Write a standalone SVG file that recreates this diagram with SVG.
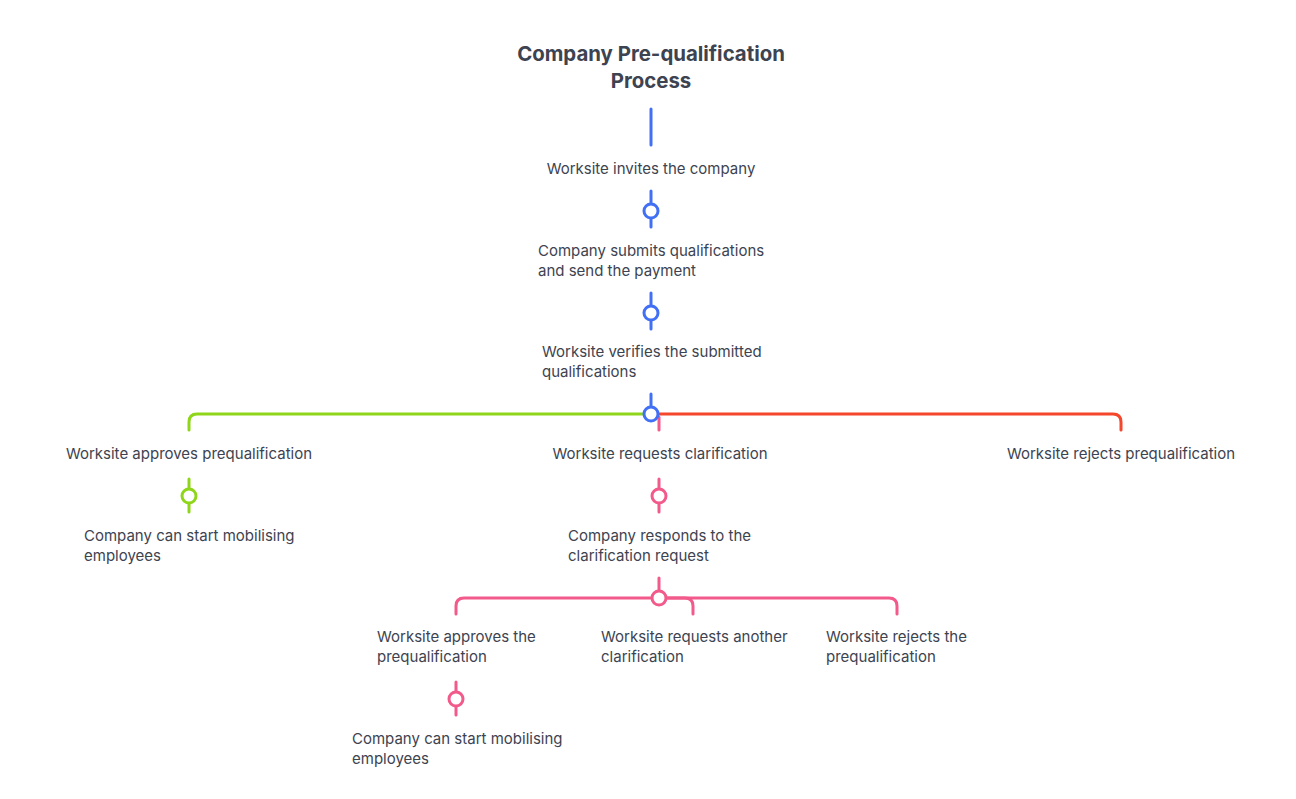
<svg xmlns="http://www.w3.org/2000/svg" width="1296" height="799" viewBox="0 0 1296 799">
<style>
.t{font-family:Inter,"Noto Sans",sans-serif;font-size:15px;fill:#3d4350}
.c{text-anchor:middle}
.title{font-family:Inter,"Noto Sans",sans-serif;font-size:20.4px;font-weight:700;fill:#3d4350;text-anchor:middle}
.ln{fill:none;stroke-width:3;stroke-linecap:round;stroke-linejoin:round}
.b{stroke:#4270f5}
.g{stroke:#8fd61b}
.r{stroke:#f4472b}
.p{stroke:#f25a8b}
.dot{fill:#fff;stroke-width:3}
</style>
<rect width="1296" height="799" fill="#fff"/>
<g id="connectors">
<line class="ln b" x1="651" y1="109" x2="651" y2="145"/>
<line class="ln b" x1="651" y1="191" x2="651" y2="227"/>
<line class="ln b" x1="651" y1="293" x2="651" y2="329"/>
<line class="ln b" x1="651" y1="394" x2="651" y2="414"/>
<path class="ln g" d="M651 414 H197 Q189 414 189 422 V430"/>
<path class="ln r" d="M651 414 H1113 Q1121 414 1121 422 V430"/>
<line class="ln p" x1="659" y1="417" x2="659" y2="430"/>
<line class="ln g" x1="189" y1="479" x2="189" y2="512"/>
<line class="ln p" x1="659" y1="479" x2="659" y2="512"/>
<line class="ln p" x1="659" y1="578" x2="659" y2="598"/>
<path class="ln p" d="M659 598 H464 Q456 598 456 606 V614"/>
<path class="ln p" d="M659 598 H889 Q897 598 897 606 V614"/>
<path class="ln p" d="M659 598 H685 Q693 598 693 606 V614"/>
<line class="ln p" x1="456" y1="682" x2="456" y2="715"/>
</g>
<g id="title"><text class="title" x="651" y="61">Company Pre-qualification</text><text class="title" x="651" y="88">Process</text></g>
<g id="n1"><text class="t c" x="651" y="174">Worksite invites the company</text></g>
<g id="n2"><circle class="dot b" cx="651" cy="211" r="7"/><text class="t" x="538" y="256">Company submits qualifications</text><text class="t" x="538" y="276">and send the payment</text></g>
<g id="n3"><circle class="dot b" cx="651" cy="313" r="7"/><text class="t" x="542" y="357">Worksite verifies the submitted</text><text class="t" x="542" y="377">qualifications</text></g>
<g id="split1"><circle class="dot b" cx="651" cy="414" r="7"/></g>
<g id="n4"><text class="t c" x="189" y="459">Worksite approves prequalification</text></g>
<g id="n5"><text class="t c" x="660" y="459">Worksite requests clarification</text></g>
<g id="n6"><text class="t c" x="1121" y="459">Worksite rejects prequalification</text></g>
<g id="n7"><circle class="dot g" cx="189" cy="496" r="7"/><text class="t" x="84" y="541">Company can start mobilising</text><text class="t" x="84" y="561">employees</text></g>
<g id="n8"><circle class="dot p" cx="659" cy="496" r="7"/><text class="t" x="568" y="541">Company responds to the</text><text class="t" x="568" y="561">clarification request</text></g>
<g id="split2"><circle class="dot p" cx="659" cy="598" r="7"/></g>
<g id="n9"><text class="t" x="377" y="642">Worksite approves the</text><text class="t" x="377" y="662">prequalification</text></g>
<g id="n10"><text class="t" x="601" y="642">Worksite requests another</text><text class="t" x="601" y="662">clarification</text></g>
<g id="n11"><text class="t" x="826" y="642">Worksite rejects the</text><text class="t" x="826" y="662">prequalification</text></g>
<g id="n12"><circle class="dot p" cx="456" cy="699" r="7"/><text class="t" x="352" y="744">Company can start mobilising</text><text class="t" x="352" y="764">employees</text></g>
</svg>
